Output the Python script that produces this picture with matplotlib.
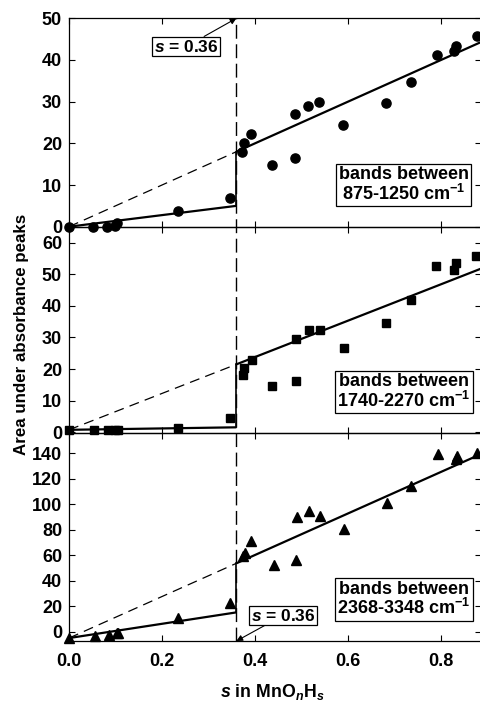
import matplotlib
matplotlib.use("Agg")
import matplotlib.pyplot as plt
import numpy as np
from matplotlib.lines import Line2D

plt.rcParams['font.family'] = ['Liberation Sans', 'DejaVu Sans']
plt.rcParams['font.weight'] = 'bold'
plt.rcParams['mathtext.fontset'] = 'custom'
plt.rcParams['mathtext.rm'] = 'Liberation Sans:bold'
plt.rcParams['mathtext.it'] = 'Liberation Sans:bold:italic'
plt.rcParams['mathtext.bf'] = 'Liberation Sans:bold'

# ---------------- data ----------------
s_break = 0.36

# panel 1: bands 875-1250 cm-1 (circles)
x1 = [0.0, 0.051, 0.082, 0.099, 0.103, 0.234, 0.346, 0.372, 0.376, 0.391, 0.436,
      0.487, 0.487, 0.514, 0.538, 0.589, 0.682, 0.735, 0.791, 0.827, 0.832, 0.877]
y1 = [0.0, 0.0, 0.0, 0.2, 1.0, 3.7, 6.8, 18.0, 20.0, 22.3, 14.9,
      16.6, 27.0, 29.0, 30.0, 24.5, 29.6, 34.7, 41.3, 42.1, 43.3, 45.8]

# panel 2: bands 1740-2270 cm-1 (squares)
x2 = [0.0, 0.054, 0.084, 0.099, 0.105, 0.235, 0.347, 0.374, 0.377, 0.394, 0.437,
      0.488, 0.488, 0.516, 0.539, 0.591, 0.682, 0.735, 0.790, 0.827, 0.833, 0.876]
y2 = [0.8, 0.8, 0.6, 0.7, 0.7, 1.5, 4.6, 18.1, 20.4, 23.0, 14.5,
      16.2, 29.6, 32.3, 32.3, 26.7, 34.6, 41.8, 52.5, 51.2, 53.4, 55.7]

# panel 3: bands 2368-3348 cm-1 (triangles)
x3 = [0.0, 0.055, 0.087, 0.103, 0.106, 0.235, 0.347, 0.375, 0.378, 0.392, 0.440,
      0.489, 0.490, 0.517, 0.540, 0.592, 0.683, 0.736, 0.793, 0.833, 0.835, 0.878]
y3 = [-5.2, -3.4, -2.6, -0.8, -1.2, 10.5, 22.3, 59.7, 61.5, 71.2, 52.4,
      56.3, 89.8, 94.7, 90.8, 80.6, 100.8, 114.6, 139.2, 135.3, 138.2, 140.0]

# fitted lines: intercept, low-s slope, high-s slope
fit_intercept = [0.0, 0.8, -5.0]
fit_low_slope = [13.9, 2.2, 56.0]
fit_high_slope = [50.0, 57.5, 163.0]

band_labels = ["bands between\n875-1250 cm$^{\\mathbf{-1}}$",
               "bands between\n1740-2270 cm$^{\\mathbf{-1}}$",
               "bands between\n2368-3348 cm$^{\\mathbf{-1}}$"]
ylims = [(0, 50), (-0.3, 65), (-7.3, 155.7)]
yticks = [np.arange(0, 51, 10), np.arange(0, 61, 10), np.arange(0, 141, 20)]
xticks = [0.0, 0.2, 0.4, 0.6, 0.8]
xlim = (0, 0.886)

markers = ['o', 's', '^']
msizes = [6.6, 5.8, 7.0]

# ---------------- figure ----------------
W, H = 481, 703
fig = plt.figure(figsize=(W / 100, H / 100), dpi=100)

left = 69 / W
right = 1.0
tops = [18.3, 226.7, 433.3]
bots = [226.7, 433.3, 641.0]
axes = []
for i in range(3):
    ax = fig.add_axes([left, 1 - bots[i] / H, right - left, (bots[i] - tops[i]) / H])
    axes.append(ax)

xs_all = [x1, x2, x3]
ys_all = [y1, y2, y3]
for i, ax in enumerate(axes):
    ax.set_xlim(*xlim)
    ax.set_ylim(*ylims[i])
    ax.plot(xs_all[i], ys_all[i], linestyle='none', marker=markers[i],
            markersize=msizes[i], color='black', clip_on=False, zorder=3)
    a = fit_intercept[i]
    bl = fit_low_slope[i]
    bh = fit_high_slope[i]
    xl = np.array([0.0, s_break])
    xh = np.array([s_break, xlim[1]])
    ax.plot(xl, a + bl * xl, color='black', lw=1.6, solid_capstyle='butt', zorder=2)
    ax.plot(xh, a + bh * xh, color='black', lw=1.6, solid_capstyle='butt', zorder=2)
    ax.plot([s_break, s_break], [a + bl * s_break, a + bh * s_break],
            color='black', lw=1.2, zorder=2)
    ax.plot(xl, a + bh * xl, color='black', lw=0.9, dashes=(8, 5), zorder=2)

    ax.set_xticks(xticks)
    ax.set_yticks(yticks[i])
    ax.tick_params(direction='in', which='both', top=True, right=True,
                   length=4.5, width=0.8, labelsize=13, pad=5)
    ax.tick_params(axis='x', pad=9)
    if i < 2:
        ax.tick_params(axis='x', labelbottom=False)
    else:
        ax.set_xticklabels(["%.1f" % t for t in xticks])
    for sp in ax.spines.values():
        sp.set_linewidth(0.9)
    for lab in ax.get_xticklabels() + ax.get_yticklabels():
        lab.set_fontweight('bold')
    ax.patch.set_alpha(0)

    ax.text(0.812, 0.2, band_labels[i], transform=ax.transAxes, ha='center', va='center',
            fontsize=13, fontweight='bold', linespacing=1.05, zorder=5,
            bbox=dict(boxstyle='square,pad=0.13', fc='white', ec='black', lw=0.9))

# long dashed vertical line at s = 0.36 through all panels
x_fig = fig.transFigure.inverted().transform(axes[0].transData.transform((s_break, 0)))[0]
fig.add_artist(Line2D([x_fig, x_fig], [1 - bots[2] / H, 1 - tops[0] / H],
                      transform=fig.transFigure, color='black', lw=1.0,
                      dashes=(10, 4), zorder=1))

arrow = dict(arrowstyle='-|>', color='black', lw=0.8, mutation_scale=9,
             shrinkA=0, shrinkB=0)
box = dict(boxstyle='square,pad=0.1', fc='white', ec='black', lw=0.9)
axes[0].annotate("$s$ = 0.36", xy=(s_break, ylims[0][1]), xytext=(0.2516, 43.2),
                 textcoords='data', ha='center', va='center', fontsize=12.5,
                 fontweight='bold', bbox=box, arrowprops=arrow, annotation_clip=False,
                 zorder=6)
axes[2].annotate("$s$ = 0.36", xy=(s_break, ylims[2][0]), xytext=(0.460, 12.7),
                 textcoords='data', ha='center', va='center', fontsize=12.5,
                 fontweight='bold', bbox=box, arrowprops=arrow, annotation_clip=False,
                 zorder=6)

fig.text(22 / W, 1 - 334 / H, "Area under absorbance peaks", rotation=90,
         ha='center', va='center', fontsize=12.2, fontweight='bold')
fig.text(272 / W, 1 - 692 / H, "$s$ in MnO$_{n}$H$_{s}$", ha='center', va='center',
         fontsize=12.8, fontweight='bold')

fig.savefig("out.png", dpi=100)
